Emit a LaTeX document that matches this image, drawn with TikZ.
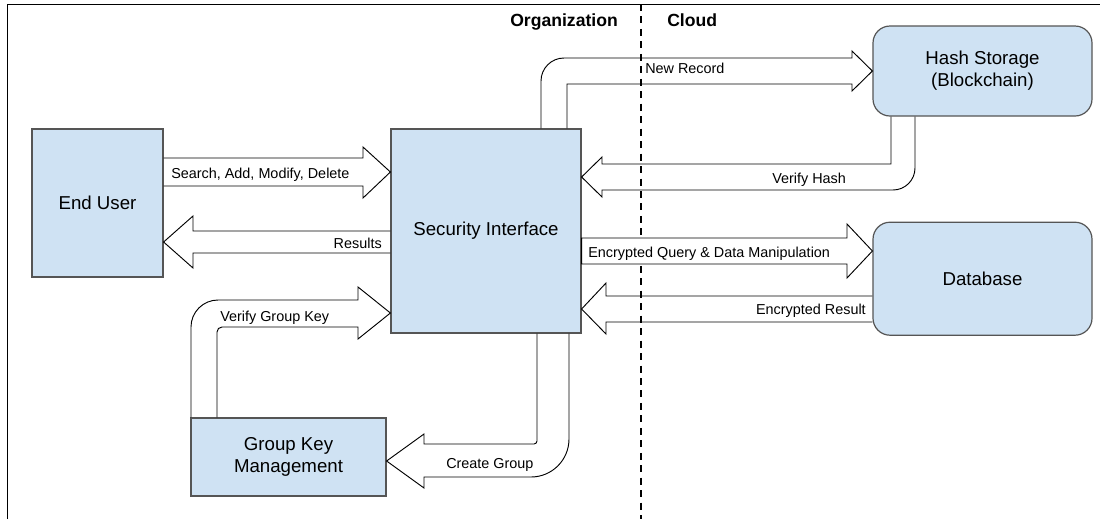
\documentclass[tikz,border=0pt]{standalone}
\usepackage{fontspec}
\setmainfont{Liberation Sans}
\usetikzlibrary{positioning,calc}

\definecolor{boxfill}{HTML}{CFE2F3}
\definecolor{boxline}{HTML}{555555}

\tikzset{
  block/.style={rectangle, draw=boxline, fill=boxfill, line width=0.9pt, inner sep=0pt,
    align=center, font=\fontsize{14}{16.5}\selectfont},
  store/.style={block, rounded corners=12.75pt},
  flow/.style={draw=black, line width=0.7pt, line join=miter},
  lbl/.style={inner sep=0pt, text height=7.6pt, text depth=0pt, font=\fontsize{10.8}{13}\selectfont},
  zone/.style={inner sep=0pt, anchor=base west, font=\fontsize{13.2}{15}\selectfont\bfseries},
}

\begin{document}
\begin{tikzpicture}[x=0.75pt, y=-0.75pt]
\useasboundingbox (0,0) rectangle (1100,519);

% frame and the organization / cloud split
\draw[line width=0.75pt] (7,519) -- (7,4) -- (1100,4);
\draw[line width=1.1pt, dash pattern=on 5.25pt off 4.1pt] (641,4) -- (641,519);
\node[zone] (org) at (510,26.5) {Organization};
\node[zone] (cloud) at (667,26.5) {Cloud};

% blocks
\node[block, minimum width=98.25pt, minimum height=111pt] (user) at (97.5,203) {End User};
\node[block, minimum width=142.5pt, minimum height=153pt] (secif) at (486,231) {Security Interface};
\node[store, minimum width=164.25pt, minimum height=67.5pt] (hash) at (982.5,71) {Hash Storage\\(Blockchain)};
\node[store, minimum width=164.25pt, minimum height=84.75pt, below=78.75pt of hash] (db) {Database};
\node[block, minimum width=146.25pt, minimum height=58.5pt] (gkm) at (288.5,457) {Group Key\\Management};

% user -> interface
\draw[flow] (user.east |- 0,158) -- (363,158) -- (363,147) -- (secif.west |- 0,172) -- (363,198) -- (363,186) -- (user.east |- 0,186);
% interface -> user
\draw[flow] (secif.west |- 0,231) -- (193,231) -- (193,216) -- (user.east |- 0,242) -- (193,268) -- (193,253) -- (secif.west |- 0,253);
% interface -> hash storage
\draw[flow] (secif.north -| 541,0) -- (541,81) arc[start angle=180, end angle=270, radius=23] -- (852,58) -- (852,51)
  -- (hash.west |- 0,71) -- (852,91) -- (852,84) -- (567,84) -- (secif.north -| 567,0);
% hash storage -> interface
\draw[flow] (hash.south -| 891,0) -- (891,164) -- (602,164) -- (602,157) -- (secif.east |- 0,177) -- (602,197)
  -- (602,190) -- (893,190) arc[start angle=90, end angle=0, radius=22] -- (hash.south -| 915,0);
% interface -> database
\draw[flow, fill=white] (secif.east |- 0,238) -- (847,238) -- (847,224) -- (db.west |- 0,251) -- (847,278) -- (847,264) -- (secif.east |- 0,264) -- cycle;
% database -> interface
\draw[flow] (db.west |- 0,296) -- (606,296) -- (606,283) -- (secif.east |- 0,309) -- (606,334) -- (606,322) -- (db.west |- 0,322);
% key management -> interface
\draw[flow] (gkm.north -| 191,0) -- (191,327) arc[start angle=180, end angle=270, radius=27] -- (358,300) -- (358,287)
  -- (secif.west |- 0,313) -- (358,339) -- (358,327) -- (222,327) arc[start angle=270, end angle=180, radius=5] -- (gkm.north -| 217,0);
% interface -> key management
\draw[flow] (secif.south -| 537,0) -- (537,441) arc[start angle=0, end angle=90, radius=3] -- (424,444) -- (424,434)
  -- (gkm.east |- 0,461) -- (424,488) -- (424,477) -- (531,477) arc[start angle=90, end angle=0, radius=38] -- (secif.south -| 569,0);

% arrow labels
\node[lbl, anchor=west] (l-search) at (171,173) {Search, Add, Modify, Delete};
\node[lbl, anchor=east] (l-results) at (382,243) {Results};
\node[lbl, anchor=west] (l-new) at (645,68) {New Record};
\node[lbl, anchor=west] (l-verify) at (772,178) {Verify Hash};
\node[lbl, anchor=west] (l-query) at (588,252.5) {Encrypted Query \& Data Manipulation};
\node[lbl, anchor=east] (l-result) at (866,309) {Encrypted Result};
\node[lbl, anchor=west] (l-key) at (220,316) {Verify Group Key};
\node[lbl, anchor=west] (l-group) at (446,463) {Create Group};
\end{tikzpicture}
\end{document}
